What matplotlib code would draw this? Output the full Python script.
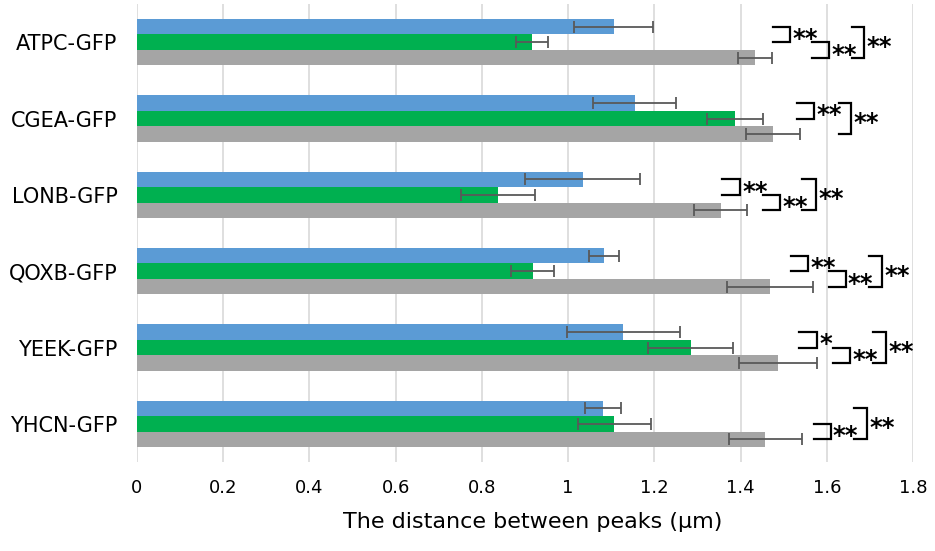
import matplotlib.pyplot as plt
import numpy as np

# 데이터
strains = ['ATPC-GFP', 'CGEA-GFP', 'LONB-GFP', 'QOXB-GFP', 'YEEK-GFP', 'YHCN-GFP']
blue_mean = [1.106, 1.154, 1.034, 1.084, 1.128, 1.081]
blue_sd = [0.092, 0.097, 0.133, 0.035, 0.131, 0.042]
green_mean = [0.916, 1.387, 0.837, 0.918, 1.284, 1.107]
green_sd = [0.038, 0.064, 0.086, 0.050, 0.098, 0.085]
gray_mean = [1.434, 1.475, 1.354, 1.468, 1.487, 1.457]
gray_sd = [0.040, 0.063, 0.062, 0.099, 0.090, 0.085]
x_ticks = [0, 0.2, 0.4, 0.6, 0.8, 1, 1.2, 1.4, 1.6, 1.8]
x_tick_labels = ['0', '0.2', '0.4', '0.6', '0.8', '1', '1.2', '1.4', '1.6', '1.8']

# 유의성 표시: (그룹, 위 막대, 아래 막대, 왼쪽 x, 오른쪽 x, 라벨)  막대 0=파랑 1=초록 2=회색
sig_marks = [
    (0, 0, 1, 1.475, 1.515, '**'), (0, 1, 2, 1.565, 1.605, '**'), (0, 0, 2, 1.658, 1.687, '**'),
    (1, 0, 1, 1.530, 1.570, '**'), (1, 0, 2, 1.629, 1.656, '**'),
    (2, 0, 1, 1.357, 1.399, '**'), (2, 1, 2, 1.452, 1.492, '**'), (2, 0, 2, 1.542, 1.575, '**'),
    (3, 0, 1, 1.516, 1.557, '**'), (3, 1, 2, 1.606, 1.644, '**'), (3, 0, 2, 1.699, 1.729, '**'),
    (4, 0, 1, 1.536, 1.578, '*'), (4, 1, 2, 1.614, 1.654, '**'), (4, 0, 2, 1.707, 1.737, '**'),
    (5, 1, 2, 1.570, 1.609, '**'), (5, 0, 2, 1.663, 1.693, '**'),
]

fig = plt.figure(figsize=(9.35, 5.51), dpi=100)
ax = fig.add_axes([0.1465, 0.1615, 0.83, 0.8312])

y = np.arange(len(strains))
bh = 0.203
colors = ['#5B9BD5', '#00B050', '#A5A5A5']
err_kw = dict(ecolor='#595959', elinewidth=1.3, capsize=4, capthick=1.3)

for k, (m, s) in enumerate([(blue_mean, blue_sd), (green_mean, green_sd), (gray_mean, gray_sd)]):
    ax.barh(y + (k - 1) * bh, m, height=bh, xerr=s, color=colors[k],
            error_kw=err_kw, zorder=2)

for g, a, b, xl, xr, lab in sig_marks:
    ya = g + (a - 1) * bh
    yb = g + (b - 1) * bh
    ax.plot([xl, xr, xr, xl], [ya, ya, yb, yb], color='black', lw=1.6, zorder=3,
            solid_joinstyle='miter')
    ax.text(xr + 0.005, (ya + yb) / 2 + 0.06, lab, fontsize=17.5, fontweight='bold',
            ha='left', va='center', color='black')

ax.set_xlim(0, 1.8)
ax.set_ylim(len(strains) - 0.5, -0.5)
ax.set_xticks(x_ticks)
ax.set_xticklabels(x_tick_labels, fontsize=13)
ax.set_yticks(y)
ax.set_yticklabels(strains, fontsize=15)
ax.tick_params(axis='both', length=0)
ax.tick_params(axis='x', pad=12)
ax.tick_params(axis='y', pad=14)
ax.grid(axis='x', color='#D9D9D9', lw=1.2, zorder=0)
ax.set_axisbelow(True)
for sp in ax.spines.values():
    sp.set_visible(False)

ax.set_xlabel('The distance between peaks (µm)', fontsize=16, labelpad=11)
ax.xaxis.label.set_x(0.51)

plt.savefig('out.png', dpi=100)
